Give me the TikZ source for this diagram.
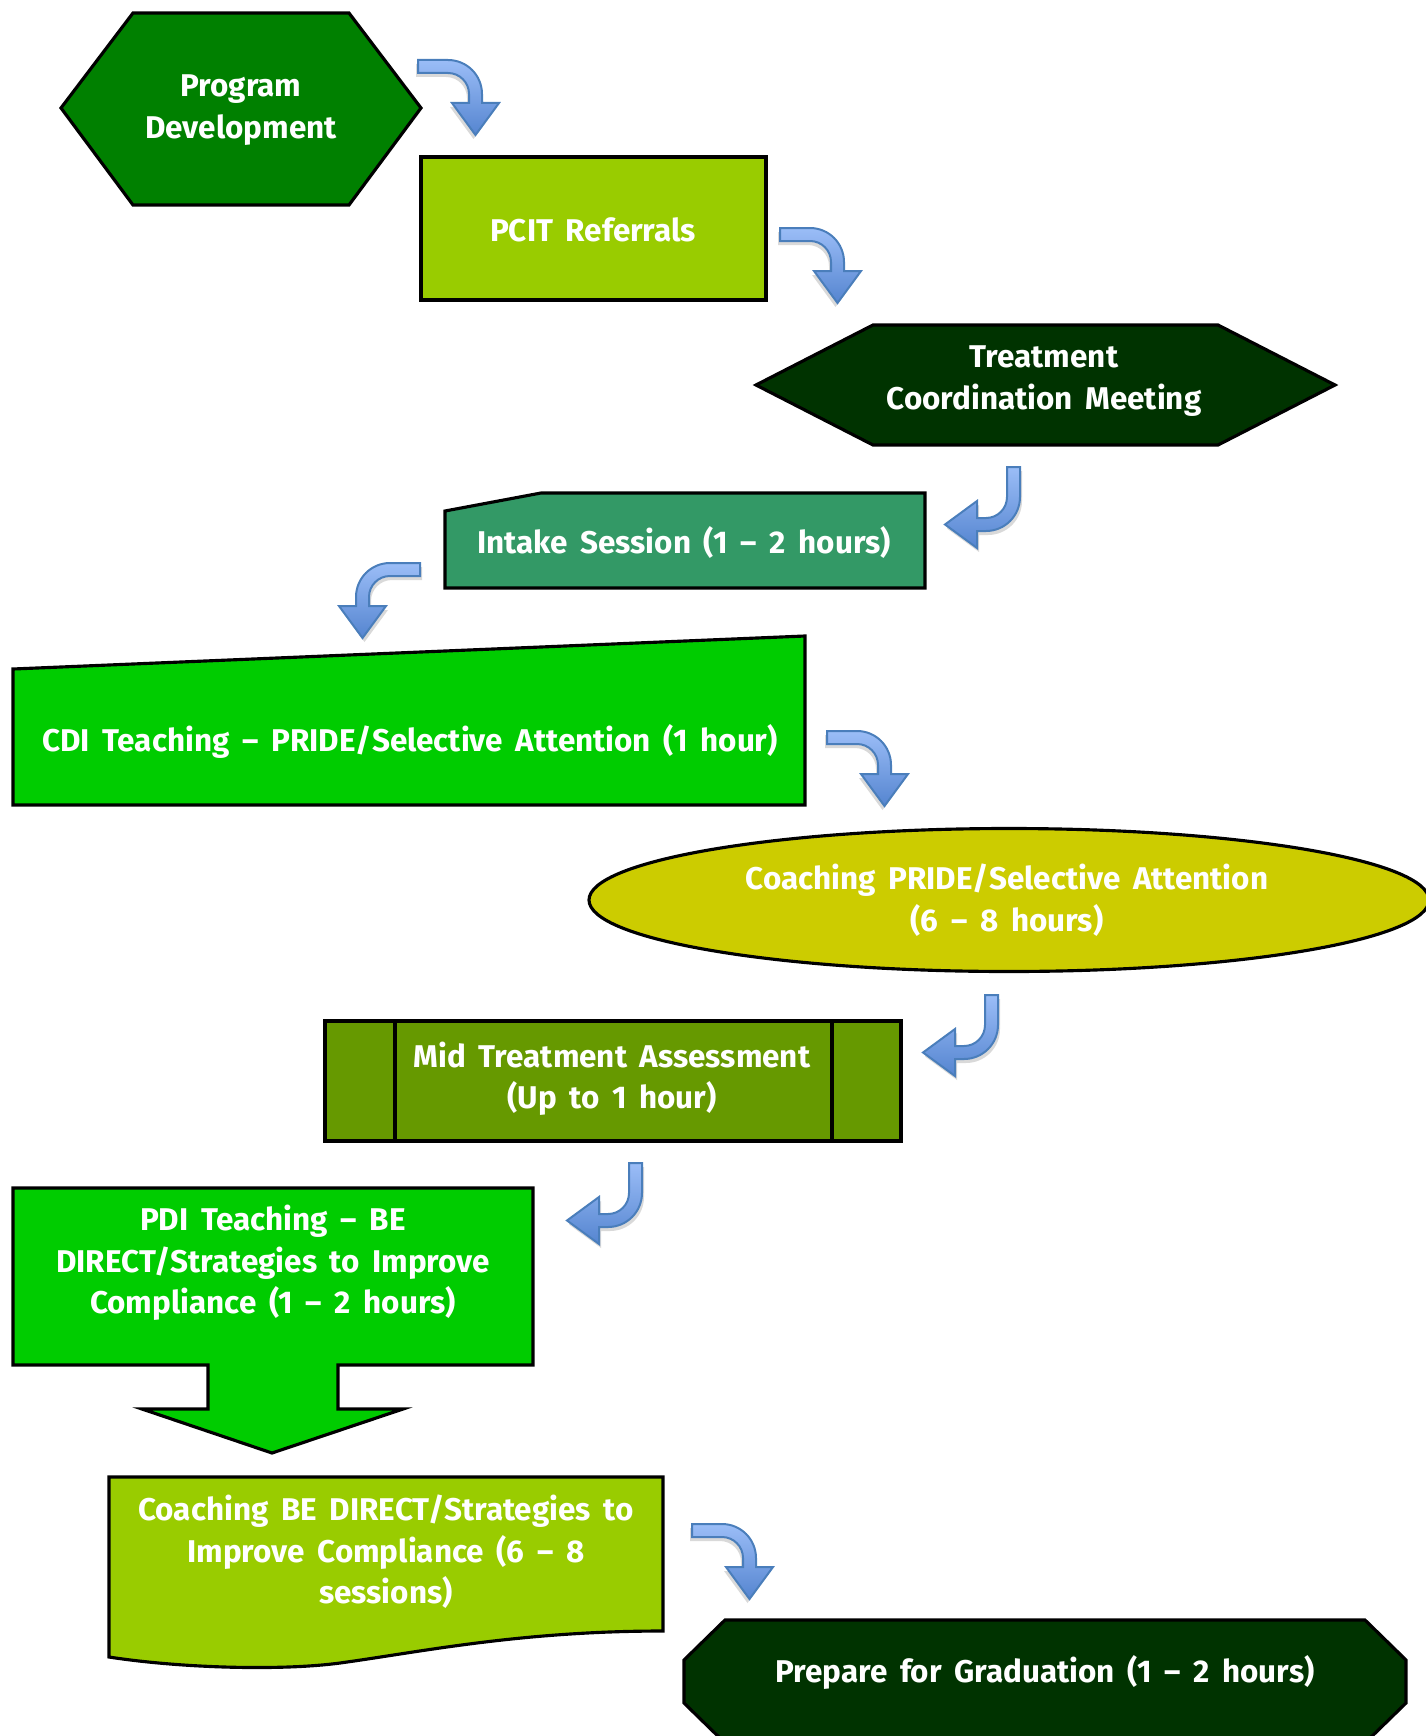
\documentclass[tikz,border=0pt]{standalone}
\usepackage{fontspec}
\setmainfont{Fira Sans}[WordSpace=1.7]
\usepackage{tikz}
\usetikzlibrary{calc}
\definecolor{progcol}{HTML}{008000}
\definecolor{refcol}{HTML}{99CC00}
\definecolor{darkcol}{HTML}{003300}
\definecolor{intakecol}{HTML}{339966}
\definecolor{teachcol}{HTML}{00CC00}
\definecolor{coachcol}{HTML}{CCCC00}
\definecolor{midcol}{HTML}{669900}
\definecolor{arrlight}{HTML}{9BBDF7}
\definecolor{arrdark}{HTML}{5585D0}
\definecolor{arrline}{HTML}{4A7EBB}
\tikzstyle{box}=[draw=black,line width=1.1pt,line join=miter]
\tikzstyle{txt}=[text=white,align=center,inner sep=0pt,font=\bfseries\fontsize{11}{14.5}\selectfont]
\tikzstyle{bluearr}=[draw=arrline,line width=0.7pt,top color=arrlight,bottom color=arrdark]
\tikzstyle{arrshadow}=[fill=black!15]
\tikzset{bend/.pic={
    \path[pic actions] (0,0) -- (30,0) .. controls (48.8,0) and (64,15.2) .. (64,34)
      -- (64,43) -- (81,43) -- (57.5,75) -- (34,43) -- (51,43) -- (51,34)
      .. controls (51,22.4) and (41.6,13) .. (30,13) -- (0,13) -- cycle;
  }
}
\newcommand\bendarrow[3]{%
  \pic[arrshadow,#2] at ($(#1)+(#3)$) {bend};
  \pic[bluearr,#2] at (#1) {bend};
}

\begin{document}
\begin{tikzpicture}[x=0.35pt,y=-0.35pt]
        \useasboundingbox (0,0) rectangle (1425,1736);
        \draw[box,fill=progcol] (61,108) -- (133,13) -- (349,13) -- (421,108) -- (349,205) -- (133,205) -- cycle;
        \node[txt] at (241,110) (prog) {Program\\Development};
        \draw[box,fill=refcol] (421,157) rectangle (766,300);
        \node[txt] at (593,230) (pcit) {PCIT Referrals};
        \draw[box,fill=darkcol] (756,385) -- (873,325) -- (1218,325) -- (1335,385) -- (1218,445) -- (873,445) -- cycle;
        \node[txt] at (1044,381) (tcm) {Treatment\\Coordination Meeting};
        \draw[box,fill=intakecol] (445,511) -- (541,493) -- (925,493) -- (925,588) -- (445,588) -- cycle;
        \node[txt] at (684,542) (intake) {Intake Session (1 – 2 hours)};
        \draw[box,fill=teachcol] (13,669) -- (805,636) -- (805,805) -- (13,805) -- cycle;
        \node[txt] at (410,741) (cdi) {CDI Teaching – PRIDE/Selective Attention (1 hour)};
        \draw[box,fill=coachcol] (1009,900) ellipse [x radius=420,y radius=71.5];
        \node[txt] at (1007,900) (cpride) {Coaching PRIDE/Selective Attention\\(6 – 8 hours)};
        \draw[box,fill=midcol] (325,1021) rectangle (901,1141);
        \draw[box] (395,1021) -- (395,1141) (832,1021) -- (832,1141);
        \node[txt] at (612,1079) (mid) {Mid Treatment Assessment\\(Up to 1 hour)};
        \draw[box,fill=teachcol] (13,1188) -- (533,1188) -- (533,1365) -- (338,1365) -- (338,1409) -- (403,1409)
          -- (272,1453) -- (142,1409) -- (208,1409) -- (208,1365) -- (13,1365) -- cycle;
        \node[txt] at (273,1263) (pdi) {PDI Teaching – BE\\DIRECT/Strategies to Improve\\Compliance (1 – 2 hours)};
        \draw[box,fill=refcol] (109,1477) -- (663,1477) -- (663,1631)
          .. controls (520,1631) and (420,1652) .. (340,1663)
          .. controls (280,1671) and (180,1668) .. (109,1657) -- cycle;
        \node[txt] at (386,1552) (cbd) {Coaching BE DIRECT/Strategies to\\Improve Compliance (6 – 8\\sessions)};
        \draw[box,fill=darkcol] (684,1660) -- (725,1620) -- (1365,1620) -- (1406,1660) -- (1406,1703)
          -- (1365,1743) -- (725,1743) -- (684,1703) -- cycle;
        \node[txt] at (1045,1672) (grad) {Prepare for Graduation (1 – 2 hours)};
        % bent block arrows
        \bendarrow{418,60}{}{-2,4}
        \bendarrow{780,228}{}{-2,4}
        \bendarrow{1020,467}{rotate=-90}{2,4}
        \bendarrow{420,563}{xscale=-1}{2,4}
        \bendarrow{827,731}{}{-2,4}
        \bendarrow{998,995}{rotate=-90}{2,4}
        \bendarrow{642,1163}{rotate=-90}{2,4}
        \bendarrow{692,1524}{}{-2,4}
      \end{tikzpicture}
\end{document}
